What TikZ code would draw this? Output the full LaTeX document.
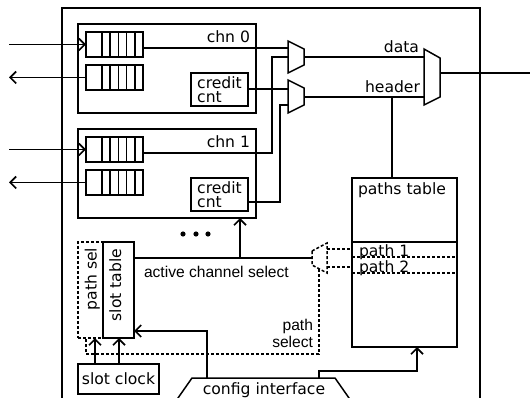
\documentclass[tikz,border=0pt]{standalone}
\usepackage{fontspec}
\setmainfont{DejaVu Sans}
\newfontfamily\labelfont{Liberation Sans}
\usetikzlibrary{arrows.meta}
\begin{document}
\begin{tikzpicture}[x=1pt,y=-1pt,line width=1.5pt,
  every node/.style={inner sep=0pt,outer sep=0pt,font=\fontsize{15.6}{14}\selectfont},
  box/.style={draw,anchor=north west},
  queue/.style={box,minimum width=57,minimum height=25,
    path picture={\foreach \i in {16,24.2,32.4,40.6,48.8}{\draw ([xshift=\i pt]path picture bounding box.north west) -- ([xshift=\i pt]path picture bounding box.south west);}}},
  arr/.style={-{Straight Barb[length=6pt,width=12pt,line width=1.7pt]}},
  dsh/.style={dash pattern=on 3pt off 2pt},
  lbl/.style={font=\labelfont\fontsize{15.6}{17}\selectfont}]
\useasboundingbox (0,0) rectangle (530,398);
% outer frame
\draw (62,400) -- (62,8) -- (480,8) -- (480,400);
% channel 0
\node[box,minimum width=178,minimum height=89] (ch0) at (78,24) {};
\node[anchor=base east] (ch0l) at (250,42.5) {chn 0};
\node[queue] (qi0) at (86,32) {};
\node[queue] (qo0) at (86,65) {};
\node[box,minimum width=57,minimum height=33,align=left] (cr0) at (191,73) {credit\\cnt};
% channel 1
\node[box,minimum width=178,minimum height=89] (ch1) at (78,129) {};
\node[anchor=base east] (ch1l) at (250,147.5) {chn 1};
\node[queue] (qi1) at (86,137) {};
\node[queue] (qo1) at (86,170) {};
\node[box,minimum width=57,minimum height=33,align=left] (cr1) at (191,178) {credit\\cnt};
% external arrows
\draw[arr] ([xshift=-77pt]qi0.west) -- (qi0.west);
\draw[arr] (qo0.west) -- ++(-77,0);
\draw[arr] ([xshift=-77pt]qi1.west) -- (qi1.west);
\draw[arr] (qo1.west) -- ++(-77,0);
% muxes
\draw (288,41) -- (304,49) -- (304,65) -- (288,73) -- cycle;
\coordinate (m1a) at (288,48); \coordinate (m1b) at (288,57); \coordinate (m1o) at (304,57);
\draw (288,80) -- (304,88) -- (304,105) -- (288,113) -- cycle;
\coordinate (m2a) at (288,89); \coordinate (m2b) at (288,105); \coordinate (m2o) at (304,97);
\draw (424,49) -- (440,58) -- (440,97) -- (424,105) -- cycle;
\coordinate (bda) at (424,57); \coordinate (bhd) at (424,97); \coordinate (bo) at (440,73);
\coordinate (outR) at (532,73);
\coordinate (j1) at (272,153); \coordinate (j2) at (280,202);
\draw (qi0.east |- m1a) -- (m1a);
\draw (qi1.east |- j1) -- (j1) |- (m1b);
\draw (cr0.east |- m2a) -- (m2a);
\draw (cr1.east |- j2) -- (j2) |- (m2b);
\draw (m1o) -- (bda);
\draw (m2o) -- (bhd);
\draw (bo) -- (outR);
\node[anchor=base east] (datal) at (419,53) {data};
\node[anchor=base east] (headl) at (420,93) {header};
% paths table
\node[box,minimum width=105,minimum height=169] (pt) at (352,178) {};
\coordinate (hj) at (392,97);
\draw (hj) -- (hj |- pt.north);
\node[anchor=base west] (ptl) at (358,195) {paths table};
\draw ([yshift=-64pt]pt.north west) -- ([yshift=-64pt]pt.north east);
\draw[dsh] ([yshift=-79pt]pt.north west) -- ([yshift=-79pt]pt.north east);
\draw[dsh] ([yshift=-95pt]pt.north west) -- ([yshift=-95pt]pt.north east);
\node[anchor=base west] (p1) at (359,256) {path 1};
\node[anchor=base west] (p2) at (359,272) {path 2};
% dashed path mux
\draw[dsh] (312,251) -- (327,243) -- (327,273) -- (312,265) -- cycle;
\coordinate (dmo) at (312,258); \coordinate (dm1) at (327,249); \coordinate (dm2) at (327,267);
\draw[dsh] (dm1) -- (dm1 -| pt.west);
\draw[dsh] (dm2) -- (dm2 -| pt.west);
% slot table / path sel
\node[box,dsh,minimum width=25,minimum height=96] (ps) at (78,242) {};
\node[box,minimum width=31,minimum height=96] (st) at (103,242) {};
\node[rotate=90,anchor=base] (pstx) at (96.5,279) {path sel};
\node[rotate=90,anchor=base] (sttx) at (121,285) {slot table};
\draw (st.east |- dmo) -- (dmo);
\coordinate (acj) at (240,258);
\draw[arr] (acj) -- (acj |- ch1.south);
\node[anchor=base west,lbl] (acs) at (144,277) {active channel select};
\foreach \dx in {183,196,208} \fill (\dx,234) circle (2.6);
% path select
\coordinate (psa) at (319,269); \coordinate (psb) at (319,354); \coordinate (psc) at (86,354);
\draw[dsh] (psa) -- (psb) -- (psc) -- (psc |- ps.south);
\node[anchor=base east,lbl] (psl1) at (313,330) {path};
\node[anchor=base east,lbl] (psl2) at (313,347) {select};
% slot clock
\node[box,minimum width=81,minimum height=30] (sc) at (78,364) {slot clock};
\coordinate (c1) at (95,364); \coordinate (c2) at (119,364);
\draw[arr] (c1) -- (c1 |- ps.south);
\draw[arr] (c2) -- (c2 |- st.south);
% config interface
\draw (171,408) -- (192,378) -- (335,378) -- (356,408);
\node[anchor=base] (cil) at (264,394) {config interface};
\coordinate (ci1) at (207,378); \coordinate (ci2) at (319,378); \coordinate (k2) at (417,371);
\draw[arr] (ci1) |- ([yshift=7pt]st.south east);
\draw[arr] (ci2) |- (k2) -- (k2 |- pt.south);
\end{tikzpicture}
\end{document}
